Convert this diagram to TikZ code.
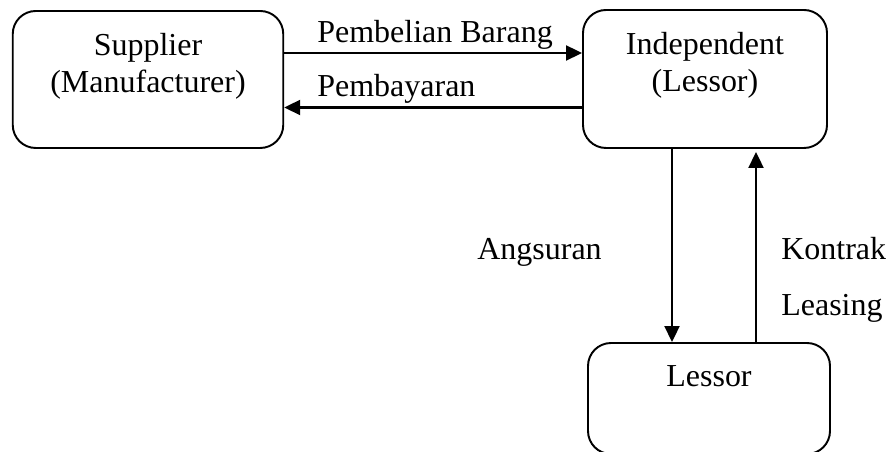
\documentclass[tikz,border=0pt]{standalone}
\usepackage{fontspec}
\setmainfont{Liberation Serif}
\usetikzlibrary{arrows.meta}

\begin{document}
\begin{tikzpicture}[x=1cm,y=1cm,
    font=\fontsize{18.2pt}{21.3pt}\selectfont,
    >={Triangle[length=0.32cm,width=0.3cm]},
    kotak/.style={draw,line width=1.1pt,rounded corners=0.46cm,
        minimum height=#1,inner sep=0pt},
    isi/.style={anchor=north,align=center,inner sep=0pt},
    panah/.style={->,line width=1.2pt},
    teks/.style={anchor=base west,inner sep=0pt}]
    \useasboundingbox (0,0) rectangle (17.76,9.04);

    % Kotak atas: pemasok di kiri, lessor independen di kanan;
    % teks diletakkan rapat ke tepi atas kotak.
    \node[kotak=2.74cm,minimum width=5.41cm] (sup) at (2.96,7.45) {};
    \node[isi] (suptxt) at ([yshift=-0.46cm]sup.north)
        {Supplier\\(Manufacturer)};
    \node[kotak=2.76cm,minimum width=4.88cm] (ind) at (14.10,7.46) {};
    \node[isi] (indtxt) at ([yshift=-0.46cm]ind.north)
        {Independent\\(Lessor)};

    % Kotak bawah terpotong oleh tepi gambar.
    \node[kotak=2.22cm,minimum width=4.84cm] (les) at (14.18,1.07) {};
    \node[isi] (lestxt) at ([yshift=-0.47cm]les.north) {Lessor};

    % Arus mendatar antara pemasok dan lessor.
    \draw[panah] ([yshift=0.53cm]sup.east) -- ([yshift=0.53cm]sup.east -| ind.west);
    \draw[panah] ([yshift=-0.57cm]ind.west) -- ([yshift=-0.57cm]ind.west -| sup.east);
    \node[teks] (beli) at (6.34,8.19) {Pembelian Barang};
    \node[teks] (bayar) at (6.34,7.11) {Pembayaran};

    % Arus tegak antara lessor independen dan lessor.
    \draw[panah] ([xshift=-0.66cm]ind.south) -- ([xshift=-0.66cm]ind.south |- les.north);
    \draw[panah,shorten >=0.06cm] ([xshift=1.02cm]ind.south |- les.north)
        -- ([xshift=1.02cm]ind.south);
    \node[teks] (angsur) at (9.54,3.84) {Angsuran};
    \node[teks] (kontrak) at (15.62,3.84) {Kontrak};
    \node[teks] (leasing) at (15.62,2.72) {Leasing};
\end{tikzpicture}
\end{document}
